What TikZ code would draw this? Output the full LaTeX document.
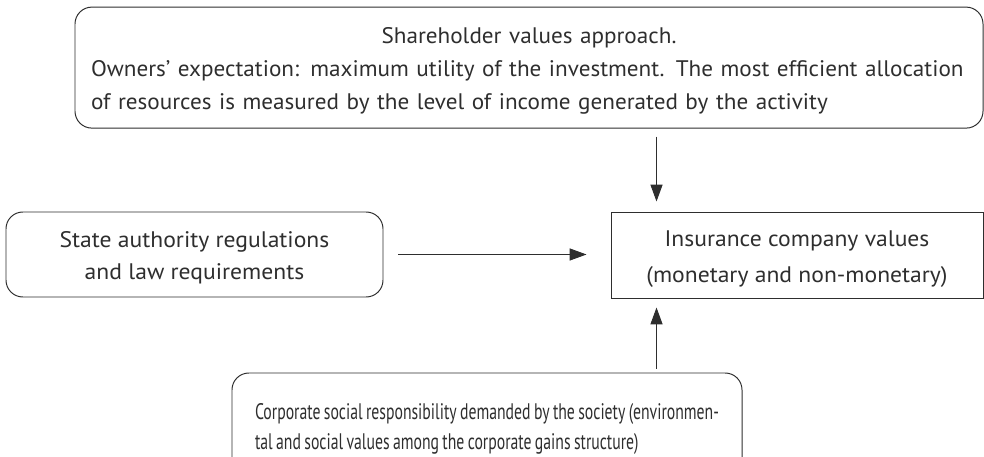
\documentclass[tikz,border=0pt]{standalone}
\usepackage{fontspec}
\setmainfont{PT Sans}[FakeStretch=1.05]
\newfontfamily\tightfont[Ligatures=TeX, FakeStretch=1.03, WordSpace=0.8]{PT Sans}
\newfontfamily\narrowfont[Ligatures=TeX, FakeStretch=0.70, WordSpace=0.8]{PT Sans}
\usetikzlibrary{arrows.meta}
\definecolor{inkgray}{HTML}{2E2E2E}
% invisible strut to set the height of a first line
\newcommand\padtop[1]{\rule{0pt}{#1}}

\begin{document}
\begin{tikzpicture}[
  >={Triangle[length=4.2mm, width=3mm]},
  valbox/.style={
    draw=inkgray, line width=0.7pt, rounded corners=12pt,
    align=center, inner sep=0pt, text=inkgray,
    font=\fontsize{16}{23.5}\selectfont
  },
  arr/.style={->, line width=0.7pt, inkgray},
]

% Page frame (the lower box runs off the bottom edge)
\useasboundingbox (0,0) rectangle (24.6,11.4);
\clip (0,0) rectangle (24.6,11.4);

% Shareholder box
\node[valbox, minimum width=22.7cm, minimum height=3.025cm,
      text width=21.9cm, align=left,
      font=\tightfont\fontsize{16}{23.5}\selectfont] (share) at (13.225,9.71)
  {\padtop{15.7pt}\makebox[\linewidth][c]{Shareholder values approach.}\\
   Owners' expectation: maximum utility of the investment. The most efficient allocation\\
   of resources is measured by the level of income generated by the activity};

% Regulations box
\node[valbox, minimum width=9.425cm, minimum height=2.125cm,
      font=\fontsize{16}{22.7}\selectfont] (state) at (4.8625,5.0375)
  {\padtop{15.6pt}State authority regulations\\
   and law requirements};

% Company values
\node[valbox, rounded corners=0pt, minimum width=9.3cm, minimum height=2.15cm,
      font=\fontsize{16}{25.5}\selectfont] (ins) at (19.925,5.025)
  {\padtop{16.8pt}Insurance company values\\
   (monetary and non-monetary)};

% CSR box
\node[valbox, minimum width=12.75cm, minimum height=2.75cm, align=left,
      font=\narrowfont\fontsize{16}{21.3}\selectfont] (csr) at (12.175,0.7)
  {\padtop{12.5pt}Corporate social responsibility demanded by the society (environmen-\\
   tal and social values among the corporate gains structure)};

% Arrows into the company values
\draw[arr, shorten <=0.2cm, shorten >=0.25cm]
  ([xshift=1.15cm]ins.north west |- share.south) -- ([xshift=1.15cm]ins.north west);
\draw[arr, shorten <=0.375cm, shorten >=0.6cm]
  (state.east) -- (state.east -| ins.west);
\draw[arr, shorten <=0.1cm, shorten >=0.225cm]
  ([xshift=1.15cm]ins.south west |- csr.north) -- ([xshift=1.15cm]ins.south west);

\end{tikzpicture}
\end{document}
